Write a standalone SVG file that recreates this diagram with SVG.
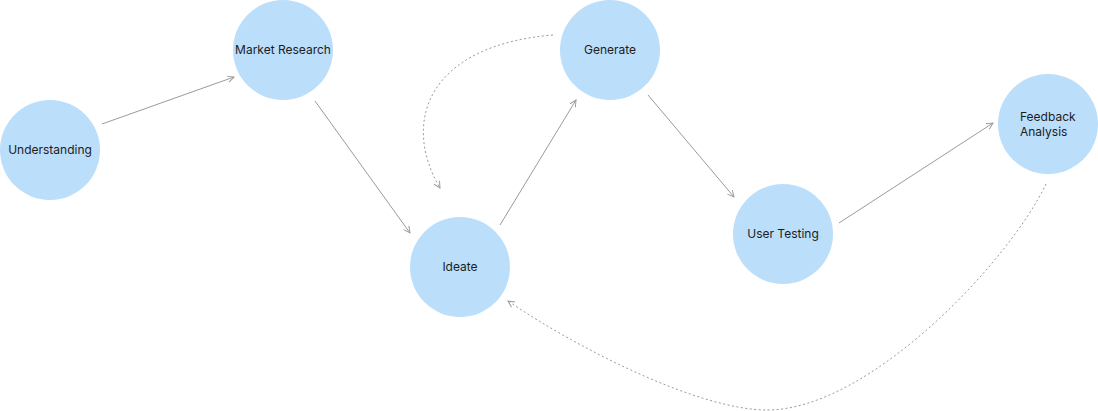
<svg xmlns="http://www.w3.org/2000/svg" width="1098" height="411" viewBox="0 0 1098 411">
<style>
.node{fill:#bbdefb}
.lbl{font-family:Inter,"Liberation Sans",sans-serif;font-size:12px;fill:#1c1c1c}
.c{text-anchor:middle}
.edge{fill:none;stroke:#9a9a9a;stroke-width:1}
.dash{stroke-dasharray:2 2.5}
</style>
<defs>
<marker id="arr" viewBox="0 0 10 10" refX="9" refY="5" markerWidth="8" markerHeight="8" markerUnits="userSpaceOnUse" orient="auto">
<path d="M1,1 L9,5 L1,9" fill="none" stroke="#9a9a9a" stroke-width="1.2"/>
</marker>
</defs>
<rect width="1098" height="411" fill="#ffffff"/>
<g id="connectors">
<line class="edge" x1="102" y1="124" x2="234" y2="77" marker-end="url(#arr)"/>
<line class="edge" x1="315" y1="101" x2="410" y2="233" marker-end="url(#arr)"/>
<line class="edge" x1="500" y1="225" x2="576" y2="100" marker-end="url(#arr)"/>
<line class="edge" x1="648" y1="95" x2="734" y2="197" marker-end="url(#arr)"/>
<line class="edge" x1="839" y1="223" x2="993" y2="123" marker-end="url(#arr)"/>
<path class="edge dash" d="M1046,184 C1010,260 870,410 767,410 C700,410 580,350 508,301" marker-end="url(#arr)"/>
<path class="edge dash" d="M553,35 C430,45 400,120 440,188" marker-end="url(#arr)"/>
</g>
<g id="understanding"><circle class="node" cx="50" cy="150" r="50"/><text class="lbl c" x="50" y="154">Understanding</text></g>
<g id="market-research"><circle class="node" cx="283" cy="50" r="50"/><text class="lbl c" x="283" y="54">Market Research</text></g>
<g id="generate"><circle class="node" cx="610" cy="50" r="50"/><text class="lbl c" x="610" y="54">Generate</text></g>
<g id="ideate"><circle class="node" cx="460" cy="267" r="50"/><text class="lbl c" x="460" y="271">Ideate</text></g>
<g id="user-testing"><circle class="node" cx="783" cy="234" r="50"/><text class="lbl c" x="783" y="238">User Testing</text></g>
<g id="feedback-analysis"><circle class="node" cx="1048" cy="124" r="50"/><text class="lbl" x="1020" y="121">Feedback</text><text class="lbl" x="1020" y="136">Analysis</text></g>
</svg>
